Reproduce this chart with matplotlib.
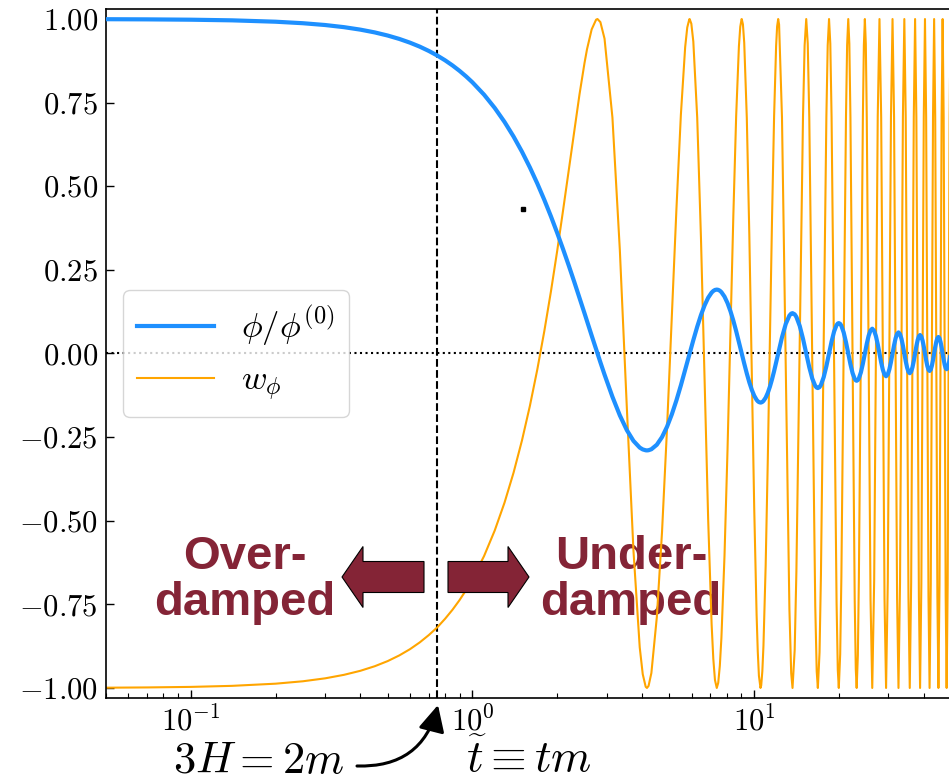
import matplotlib
matplotlib.use("Agg")
import matplotlib.pyplot as plt
import numpy as np
from matplotlib.patches import FancyArrow, FancyArrowPatch
from matplotlib.ticker import FuncFormatter

plt.rcParams.update({
    "font.family": "serif",
    "font.serif": ["cmr10"],
    "mathtext.fontset": "cm",
    "axes.formatter.use_mathtext": True,
})

# ---------------- data ----------------
# slow-roll part
t_slow = [0.05, 0.07, 0.1, 0.14, 0.2, 0.25, 0.3, 0.35, 0.4, 0.45, 0.5, 0.55, 0.6,
          0.65, 0.7, 0.75, 0.8, 0.85, 0.9, 0.95, 1.0, 1.1, 1.2, 1.3, 1.4, 1.5,
          1.6, 1.7, 1.8, 1.9, 2.0, 2.1, 2.2, 2.3, 2.4, 2.5]
phi_slow = [0.9995, 0.9990, 0.9980, 0.9961, 0.9920, 0.9875, 0.9821, 0.9757, 0.9683,
            0.9600, 0.9507, 0.9405, 0.9294, 0.9175, 0.9046, 0.8910, 0.8765, 0.8612,
            0.8451, 0.8283, 0.8108, 0.7738, 0.7342, 0.6924, 0.6486, 0.6031, 0.5562,
            0.5082, 0.4594, 0.4101, 0.3606, 0.3112, 0.2622, 0.2139, 0.1666, 0.1205]
w_slow = [-0.9992, -0.9984, -0.9968, -0.9937, -0.9872, -0.9800, -0.9712, -0.9607,
          -0.9487, -0.9350, -0.9197, -0.9027, -0.8841, -0.8638, -0.8419, -0.8189,
          -0.7930, -0.7660, -0.7374, -0.7070, -0.6749, -0.6055, -0.5293, -0.4461,
          -0.3562, -0.2595, -0.1565, -0.0476, 0.0667, 0.1852, 0.3068, 0.4299,
          0.5505, 0.6670, 0.7746, 0.8681]

# first oscillations
t_osc1 = [2.5525, 2.6507, 2.7489, 2.7803, 2.8471, 2.9452, 3.1416, 3.3379, 3.5343,
          3.7306, 3.9270, 4.0252, 4.1233, 4.1656, 4.2215, 4.3197, 4.5160, 4.7124,
          4.9087, 5.1051, 5.3014, 5.4978, 5.6941, 5.7923, 5.8905, 5.9062, 5.9887,
          6.0868, 6.2832, 6.4795, 6.6759, 6.8722, 7.0686, 7.1667, 7.2649, 7.3729,
          7.4613, 7.5594, 7.6576, 7.8540, 8.0503, 8.2467, 8.4430, 8.6394, 8.8357,
          8.9339, 9.0321, 9.0425, 9.1302, 9.2284, 9.4248, 9.6211, 9.8175, 10.0138,
          10.2102, 10.3084, 10.4065, 10.5409, 10.6029, 10.7011, 10.7992, 10.9956,
          11.1919, 11.3883, 11.5846, 11.7810, 11.9773, 12.0755, 12.1814, 12.2718]
phi_osc1 = [0.0966, 0.0538, 0.0127, 0.0, -0.0263, -0.0631, -0.1294, -0.1850, -0.2291,
            -0.2612, -0.2813, -0.2868, -0.2894, -0.2897, -0.2892, -0.2863, -0.2728,
            -0.2499, -0.2191, -0.1820, -0.1401, -0.0952, -0.0492, -0.0262, -0.0036,
            0.0, 0.0185, 0.0399, 0.0799, 0.1150, 0.1442, 0.1668, 0.1821, 0.1870,
            0.1900, 0.1911, 0.1903, 0.1878, 0.1835, 0.1701, 0.1508, 0.1264, 0.0981,
            0.0670, 0.0345, 0.0181, 0.0017, 0.0, -0.0144, -0.0301, -0.0597, -0.0862,
            -0.1086, -0.1262, -0.1386, -0.1427, -0.1453, -0.1467, -0.1464, -0.1448,
            -0.1418, -0.1321, -0.1175, -0.0989, -0.0770, -0.0528, -0.0271, -0.0140,
            0.0, 0.0119]
w_osc1 = [0.9099, 0.9689, 0.9981, 1.0, 0.9908, 0.9414, 0.7056, 0.3091, -0.1621,
          -0.5887, -0.8783, -0.9588, -0.9964, -1.0, -0.9939, -0.9553, -0.7887,
          -0.5337, -0.2245, 0.1076, 0.4317, 0.7138, 0.9161, 0.9749, 0.9995, 1.0,
          0.9861, 0.9325, 0.7052, 0.3443, -0.0851, -0.4961, -0.8093, -0.9126,
          -0.9763, -1.0, -0.9847, -0.9337, -0.8504, -0.6047, -0.2875, 0.0652,
          0.4127, 0.7097, 0.9182, 0.9769, 0.9998, 1.0, 0.9843, 0.9293, 0.7046,
          0.3551, -0.0595, -0.4622, -0.7803, -0.8908, -0.9636, -1.0, -0.9924,
          -0.9503, -0.8741, -0.6353, -0.3137, 0.0478, 0.4039, 0.7090, 0.9197,
          0.9779, 1.0, 0.9835]

# late, fast oscillations
t_osc2 = [12.5664, 12.9591, 13.3518, 13.5481, 13.6967, 13.9408, 14.1372, 14.5299,
          14.9226, 15.1190, 15.3214, 15.5117, 15.7080, 16.1007, 16.4934, 16.6898,
          16.8472, 17.0825, 17.2788, 17.6715, 18.0642, 18.2606, 18.4620, 18.6533,
          18.8496, 19.2423, 19.6350, 19.8314, 19.9949, 20.2241, 20.4204, 20.8131,
          21.2058, 21.4022, 21.6028, 21.7949, 21.9911, 22.3838, 22.7765, 22.9730,
          23.1410, 23.3657, 23.5619, 23.9546, 24.3473, 24.5438, 24.7439, 24.9365,
          25.1327, 25.5254, 25.9181, 26.2859, 26.7035, 27.0962, 27.4889, 27.8850,
          28.2743, 28.6670, 29.0597, 29.4302, 29.8451, 30.2378, 30.6305, 31.0262,
          31.4159, 31.8086, 32.2013, 32.5740, 32.9867, 33.3794, 33.7721, 34.1675,
          34.5575, 34.9502, 35.3429, 35.7173, 36.1283, 36.5210, 36.9137, 37.3089,
          37.6991, 38.0918, 38.4845, 38.8604, 39.2699, 39.6626, 40.0553, 40.4503,
          40.8407, 41.2334, 41.6261, 42.0033, 42.4115, 42.8042, 43.1969, 43.5917,
          43.9823, 44.3750, 44.7677, 45.1459, 45.5531, 45.9458, 46.3385, 46.7332,
          47.1239, 47.5166, 47.9093, 48.2884, 48.6947, 49.0874, 49.4801, 49.8747,
          50.2655]
phi_osc2 = [0.0484, 0.0884, 0.1134, 0.1193, 0.1206, 0.1171, 0.1093, 0.0822,
            0.0440, 0.0226, 0.0, -0.0208, -0.0411, -0.0752, -0.0969, -0.1020,
            -0.1033, -0.1005, -0.0940, -0.0709, -0.0380, -0.0195, 0.0, 0.0182,
            0.0359, 0.0659, 0.0850, 0.0897, 0.0909, 0.0885, 0.0829, 0.0627,
            0.0337, 0.0172, 0.0, -0.0163, -0.0321, -0.0589, -0.0761, -0.0803,
            -0.0815, -0.0794, -0.0744, -0.0564, -0.0303, -0.0155, 0.0, 0.0148,
            0.0291, 0.0534, 0.0691, 0.0741, 0.0677, 0.0514, 0.0276, 0.0,
            -0.0266, -0.0489, -0.0634, -0.0680, -0.0623, -0.0473, -0.0255, 0.0,
            0.0246, 0.0453, 0.0587, 0.0631, 0.0578, 0.0439, 0.0237, 0.0,
            -0.0229, -0.0422, -0.0548, -0.0589, -0.0540, -0.0410, -0.0221, 0.0,
            0.0215, 0.0396, 0.0514, 0.0552, 0.0507, 0.0386, 0.0208, 0.0,
            -0.0203, -0.0373, -0.0484, -0.0521, -0.0479, -0.0364, -0.0196, 0.0,
            0.0192, 0.0353, 0.0459, 0.0494, 0.0454, 0.0345, 0.0186, 0.0,
            -0.0182, -0.0335, -0.0436, -0.0469, -0.0431, -0.0329, -0.0177, 0.0,
            0.0174]
w_osc2 = [0.7053, -0.0447, -0.7636, -0.9556, -1.0, -0.8862, -0.6515, 0.0377,
          0.7086, 0.9206, 1.0, 0.9271, 0.7056, -0.0358, -0.7531, -0.9502,
          -1.0, -0.8936, -0.6617, 0.0312, 0.7084, 0.9211, 1.0, 0.9266,
          0.7059, -0.0298, -0.7459, -0.9464, -1.0, -0.8986, -0.6688, 0.0265,
          0.7082, 0.9215, 1.0, 0.9262, 0.7061, -0.0256, -0.7406, -0.9435,
          -1.0, -0.9021, -0.6740, 0.0231, 0.7080, 0.9218, 1.0, 0.9259,
          0.7062, -0.0224, -0.7368, -1.0, -0.6779, 0.0205, 0.7079, 1.0,
          0.7063, -0.0199, -0.7334, -1.0, -0.6810, 0.0184, 0.7078, 1.0,
          0.7064, -0.0179, -0.7309, -1.0, -0.6835, 0.0167, 0.7078, 1.0,
          0.7064, -0.0163, -0.7288, -1.0, -0.6856, 0.0152, 0.7077, 1.0,
          0.7065, -0.0149, -0.7270, -1.0, -0.6873, 0.0140, 0.7077, 1.0,
          0.7066, -0.0138, -0.7255, -1.0, -0.6888, 0.0130, 0.7076, 1.0,
          0.7066, -0.0128, -0.7243, -1.0, -0.6900, 0.0121, 0.7076, 1.0,
          0.7066, -0.0119, -0.7231, -1.0, -0.6912, 0.0114, 0.7076, 1.0,
          0.7067]

t_transition = 0.75          # 3H = 2m
dot_t = [1.51]
dot_v = [0.433]
y_ticks = [-1.0, -0.75, -0.5, -0.25, 0.0, 0.25, 0.5, 0.75, 1.0]
x_limits = (0.05, 50)
y_limits = (-1.03, 1.03)

t_all = np.array(t_slow + t_osc1 + t_osc2)
phi_all = np.array(phi_slow + phi_osc1 + phi_osc2)
w_all = np.array(w_slow + w_osc1 + w_osc2)

# ---------------- figure ----------------
W, H = 949, 781
fig = plt.figure(figsize=(W / 100, H / 100), dpi=100)
ax = fig.add_axes([106 / W, 1 - 698 / H, (950.9 - 106) / W, 689 / H])
ax.set_xscale("log")

l_w, = ax.plot(t_all, w_all, color="orange", lw=1.5, zorder=2, label=r"$w_\phi$")
l_phi, = ax.plot(t_all, phi_all, color="dodgerblue", lw=3, zorder=3,
                 label=r"$\phi/\phi^{(0)}$")
ax.axhline(0, color="k", ls=":", lw=1.5, zorder=1.5)
ax.axvline(t_transition, color="k", ls="--", lw=1.5, zorder=1.5)
ax.plot(dot_t, dot_v, ls="none", marker="s", ms=3, color="k")

ax.set_xlim(*x_limits)
ax.set_ylim(*y_limits)
ax.set_yticks(y_ticks)
ax.yaxis.set_major_formatter(FuncFormatter(lambda v, p: r"$%.2f$" % v))
ax.tick_params(which="major", direction="in", length=6, width=1.0,
               labelsize=22, pad=6, top=False, right=False)
ax.tick_params(which="minor", direction="in", length=3.5, width=0.8,
               top=False, right=False)
for s in ax.spines.values():
    s.set_linewidth(1.2)

ax.set_xlabel(r"$\widetilde{t}\equiv tm$", fontsize=33, labelpad=1)

leg = ax.legend(handles=[l_phi, l_w], loc="center left", fontsize=25,
                handlelength=2.2)

red = "#842436"
txt_kw = dict(transform=fig.transFigure, ha="center", va="center",
              fontsize=34, fontweight="bold", family="Liberation Sans",
              color=red, linespacing=1.05, zorder=1)
ax.text(245 / W, 1 - 580 / H, "Over-\ndamped", **txt_kw)
ax.text(631 / W, 1 - 580 / H, "Under-\ndamped", **txt_kw)

arr_kw = dict(transform=fig.transFigure, length_includes_head=True,
              fc=red, ec="k", lw=0.8, zorder=5, clip_on=False)
ax.add_patch(FancyArrow(424 / W, 1 - 577 / H, -(424 - 342) / W, 0,
                        width=31 / H, head_width=61 / H, head_length=21 / W, **arr_kw))
ax.add_patch(FancyArrow(448 / W, 1 - 577 / H, (529 - 448) / W, 0,
                        width=31 / H, head_width=61 / H, head_length=21 / W, **arr_kw))

fig.text(173 / W, 1 - 773 / H, r"$3H = 2m$", fontsize=32, ha="left", va="baseline")
curved = FancyArrowPatch((357 / W, 1 - 766 / H), (438 / W, 1 - 705 / H),
                         transform=fig.transFigure,
                         connectionstyle="arc3,rad=0.4",
                         arrowstyle="-|>,head_length=0.4,head_width=0.2",
                         mutation_scale=40, lw=2.2, color="k",
                         shrinkA=0, shrinkB=0)
fig.add_artist(curved)

fig.savefig("out.png", dpi=100)
